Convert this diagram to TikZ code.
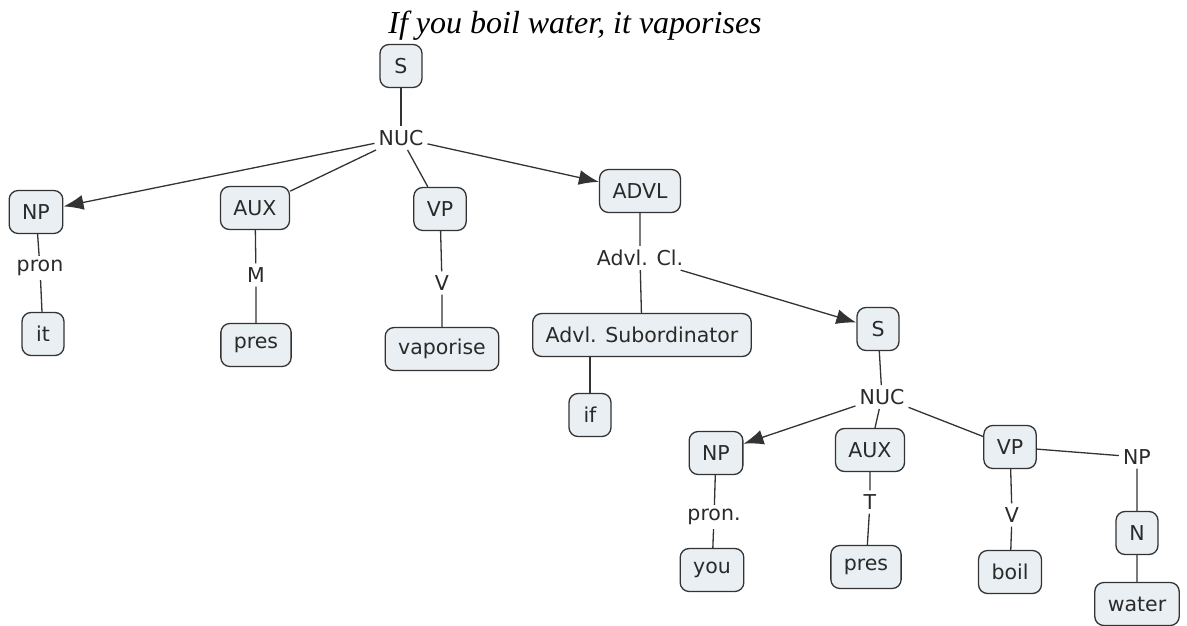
\documentclass[tikz,border=0pt]{standalone}
\usepackage{fontspec}
\setmainfont{DejaVu Sans}
\newfontfamily\titlefont{Liberation Serif}
\usetikzlibrary{arrows.meta,positioning}
\definecolor{boxfill}{HTML}{E9EFF2}
\definecolor{boxline}{HTML}{333333}
\definecolor{txt}{HTML}{2A2A2A}

\begin{document}
\begin{tikzpicture}[x=1pt,y=-1pt,
  box/.style={draw=boxline,fill=boxfill,line width=1.3pt,rounded corners=9pt,
    minimum height=43pt,minimum width=42pt,inner xsep=13pt,text=txt,
    font=\fontsize{20.5}{23}\selectfont},
  lbl/.style={inner sep=4pt,text=txt,font=\fontsize{20.5}{23}\selectfont},
  link/.style={draw=boxline,line width=1.3pt},
  arr/.style={link,-{Latex[length=20pt,width=15pt]}}]
  \useasboundingbox (0,0) rectangle (1187,626);
  % sentence title
  \node[font=\titlefont\itshape\fontsize{32}{34}\selectfont] (title) at (575,26) {If you boil water, it vaporises};
  % main clause
  \node[box] (s) at (401,66) {S};
  \node[lbl] (nuc) at (401,138) {NUC};
  \node[box] (np) at (36,212) {NP};
  \node[box] (aux) at (255,208) {AUX};
  \node[box] (vp) at (440,209) {VP};
  \node[box] (advl) at (640,191) {ADVL};
  \node[lbl] (pron) at (40,268) {pron};
  \node[lbl] (m) at (256,275) {M};
  \node[lbl] (v) at (442,283) {V};
  \node[box] (it) at (43,334) {it};
  \node[box] (pres) at (256,345) {pres};
  \node[box] (vaporise) at (442,349) {vaporise};
  % adverbial clause
  \node[lbl] (advlcl) at (640,258) {Advl. Cl.};
  \node[box] (sub) at (642,335) {Advl. Subordinator};
  \node[box] (if) at (590,415) {if};
  \node[box] (s2) at (878,329) {S};
  \node[lbl] (nuc2) at (882,397) {NUC};
  \node[box] (np2) at (716,453) {NP};
  \node[box] (aux2) at (870,450) {AUX};
  \node[box] (vp2) at (1010,447) {VP};
  \node[lbl] (npobj) at (1137,457) {NP};
  \node[lbl] (pron2) at (714,517) {pron.};
  \node[lbl] (t) at (870,502) {T};
  \node[lbl] (v2) at (1012,515) {V};
  \node[box] (n) at (1137,533) {N};
  \node[box] (you) at (712,570) {you};
  \node[box] (pres2) at (866,567) {pres};
  \node[box] (boil) at (1010,572) {boil};
  \node[box] (water) at (1137,604) {water};

  \draw[link] (s) -- (nuc);
  \draw[arr] (nuc) -- (np);
  \draw[link] (nuc) -- (aux);
  \draw[link] (nuc) -- (vp);
  \draw[arr] (nuc) -- (advl);
  \draw[link] (np) -- (pron) -- (it);
  \draw[link] (aux) -- (m) -- (pres);
  \draw[link] (vp) -- (v) -- (vaporise);
  \draw[link] (advl) -- (advlcl) -- (sub);
  \draw[arr] (advlcl) -- (s2);
  \draw[link] (if |- sub.south) -- (if);
  \draw[link] (s2) -- (nuc2);
  \draw[arr] (nuc2) -- (np2);
  \draw[link] (nuc2) -- (aux2);
  \draw[link] (nuc2) -- (vp2);
  \draw[link] (np2) -- (pron2) -- (you);
  \draw[link] (aux2) -- (t) -- (pres2);
  \draw[link] (vp2) -- (v2) -- (boil);
  \draw[link] (vp2) -- (npobj) -- (n) -- (water);
\end{tikzpicture}
\end{document}
